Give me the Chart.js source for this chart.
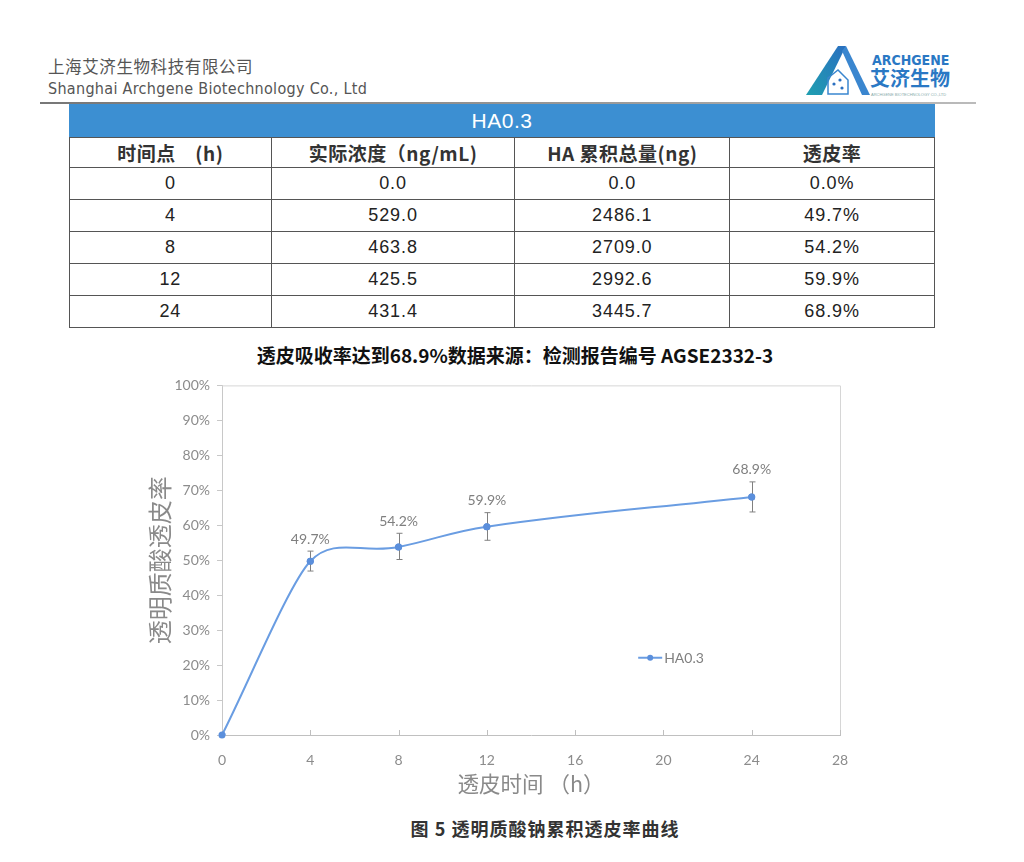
<!DOCTYPE html>
<html>
<head>
<meta charset="utf-8">
<script src="https://cdn.jsdelivr.net/npm/chart.js@4.4.1/dist/chart.umd.min.js"></script>
<style>
  html,body{margin:0;padding:0;background:#fff;}
  body{width:1024px;height:862px;position:relative;overflow:hidden;font-family:"Noto Sans CJK SC","Liberation Sans",sans-serif;}
  .abs{position:absolute;}
  #cn{left:48px;top:54px;font-size:16.5px;color:#555;letter-spacing:0.6px;font-family:"Noto Sans CJK SC",sans-serif;}
  #en{left:48px;top:79px;font-size:16px;color:#555;font-family:"Liberation Sans Narrow","DejaVu Sans Condensed",sans-serif;letter-spacing:0.3px;}
  #hline{left:40px;top:102px;width:936px;height:2px;background:linear-gradient(90deg,#777,#999 60%,#bbb);}
  table{position:absolute;left:69px;top:104px;width:866px;border-collapse:collapse;font-family:"Liberation Sans",Arial,sans-serif;}
  td,th{border:1px solid #555;text-align:center;color:#222;padding:0;}
  th.bar{background:#3c8fd2;color:#fff;font-weight:normal;font-size:21px;letter-spacing:0.5px;height:32px;border-color:#3c8fd2;border-bottom:1px solid #555;}
  th.hd{font-family:"Noto Sans CJK SC",sans-serif;font-weight:bold;font-size:19px;height:29px;color:#333;letter-spacing:0.5px;}
  td{height:31px;font-size:18px;letter-spacing:0.9px;}
  #sub{left:0;width:1030px;top:341px;text-align:center;font-size:19px;font-weight:bold;color:#111;font-family:"Noto Sans CJK SC",sans-serif;}
  #cap{left:0;width:1090px;top:815px;text-align:center;font-size:18px;font-weight:bold;color:#333;letter-spacing:1px;font-family:"Noto Sans CJK SC",sans-serif;}
  #wrap{left:140px;top:370px;width:720px;height:440px;}
</style>
</head>
<body>
<div id="cn" class="abs">上海艾济生物科技有限公司</div>
<div id="en" class="abs">Shanghai Archgene Biotechnology Co., Ltd</div>
<svg class="abs" style="left:800px;top:38px" width="170" height="64" viewBox="0 0 170 64">
  <defs>
    <linearGradient id="g1" x1="0" y1="1" x2="1" y2="0">
      <stop offset="0" stop-color="#1f9fb0"/>
      <stop offset="1" stop-color="#2a6fc0"/>
    </linearGradient>
  </defs>
  <polygon points="38,8 46,8 22,57 6,57" fill="url(#g1)"/>
  <polygon points="42,13 46,8 70,57 62,57" fill="#3a86cf"/>
  <polygon points="28,40 38,32 48,42 48,56 28,56" fill="none" stroke="#3a86cf" stroke-width="1.5"/>
  <circle cx="34" cy="46" r="1.6" fill="#2a6fc0"/><circle cx="40" cy="42" r="1.6" fill="#2a6fc0"/><circle cx="42" cy="50" r="1.6" fill="#2a6fc0"/>
  <text x="72" y="27" font-family="Liberation Sans Narrow,DejaVu Sans Condensed,sans-serif" font-size="14" font-weight="bold" fill="#2a78c4">ARCHGENE</text>
  <text x="70" y="48" font-family="Noto Sans CJK SC,sans-serif" font-weight="bold" font-size="20" fill="#2a78c4">艾济生物</text>
  <text x="71" y="58" font-family="Liberation Sans,sans-serif" font-size="4" fill="#8aa">ARCHGENE BIOTECHNOLOGY CO.,LTD</text>
</svg>
<div id="hline" class="abs"></div>
<table id="tbl"></table>
<div id="sub" class="abs">透皮吸收率达到68.9%数据来源：检测报告编号 AGSE2332-3</div>
<div id="wrap" class="abs"><canvas id="c" width="720" height="440"></canvas></div>
<div id="cap" class="abs">图 5 透明质酸钠累积透皮率曲线</div>
<script>
// ---- data ----
const tableTitle = 'HA0.3';
const tableHeaders = ['时间点　(h)', '实际浓度（ng/mL)', 'HA 累积总量(ng)', '透皮率'];
const timePoints = [0, 4, 8, 12, 24];
const concentration = ['0.0', '529.0', '463.8', '425.5', '431.4'];
const cumulativeTotal = ['0.0', '2486.1', '2709.0', '2992.6', '3445.7'];
const permeationPct = [0.0, 49.7, 54.2, 59.9, 68.9];
// plotted
const plotValues = [0, 49.7, 53.8, 59.6, 68.1];
const errHigh = [0, 52.6, 57.7, 63.6, 72.4];
const errLow = [0, 46.9, 50.2, 55.7, 63.8];
const seriesName = 'HA0.3';
const xTicks = [0, 4, 8, 12, 16, 20, 24, 28];
const yAxisTitle = '透明质酸透皮率';
const xAxisTitle = '透皮时间 （h）';

// ---- table ----
(function(){
  const t = document.getElementById('tbl');
  let h = '<tr><th class="bar" colspan="4">' + tableTitle + '</th></tr><tr>';
  const widths = [202, 244, 215, 205];
  tableHeaders.forEach((s,i)=>{ h += '<th class="hd" style="width:'+widths[i]+'px">' + s + '</th>'; });
  h += '</tr>';
  timePoints.forEach((tp,i)=>{
    h += '<tr><td>'+tp+'</td><td>'+concentration[i]+'</td><td>'+cumulativeTotal[i]+'</td><td>'+permeationPct[i].toFixed(1)+'%</td></tr>';
  });
  t.innerHTML = h;
})();

// ---- chart ----
const lineColor = '#6a9de2';
const tickFont = {family: 'Lato, "Liberation Sans", sans-serif', size: 14};
const extras = {
  id: 'extras',
  beforeDatasetsDraw(chart) {
    // Excel-like smoothing for the first segment: nearly straight rise, rounding into the 2nd point
    const meta = chart.getDatasetMeta(0);
    meta.dataset.updateControlPoints(chart.chartArea);
    const p = meta.data;
    if (p.length > 2) {
      p[0].cp2x = p[0].x + 0.3 * (p[1].x - p[0].x);
      p[0].cp2y = p[0].y + 0.3 * (p[1].y - p[0].y);
      p[1].cp1x = p[1].x - 0.12 * (p[2].x - p[0].x);
      p[1].cp1y = p[1].y - 0.12 * (p[2].y - p[0].y);
    }
  },
  afterDatasetsDraw(chart) {
    const ctx = chart.ctx, xs = chart.scales.x, ys = chart.scales.y, a = chart.chartArea;
    ctx.save();
    ctx.strokeStyle = '#d6d6d6'; ctx.lineWidth = 1;
    ctx.beginPath();
    ctx.moveTo(a.left, a.top + 0.5); ctx.lineTo(a.right + 0.5, a.top + 0.5); ctx.lineTo(a.right + 0.5, a.bottom);
    ctx.stroke();
    ctx.strokeStyle = '#bfbfbf';
    xTicks.forEach(v => { if (v === 0) return; const px = Math.round(xs.getPixelForValue(v)) + 0.5; ctx.beginPath(); ctx.moveTo(px, a.bottom); ctx.lineTo(px, a.bottom - 5); ctx.stroke(); });
    ctx.strokeStyle = '#808080'; ctx.lineWidth = 1;
    timePoints.forEach((tp, i) => {
      if (errHigh[i] === errLow[i]) return;
      const px = Math.round(xs.getPixelForValue(tp)) + 0.5;
      const y1 = ys.getPixelForValue(errHigh[i]), y2 = ys.getPixelForValue(errLow[i]);
      ctx.beginPath();
      ctx.moveTo(px, y1); ctx.lineTo(px, y2);
      ctx.moveTo(px - 3, y1); ctx.lineTo(px + 3, y1);
      ctx.moveTo(px - 3, y2); ctx.lineTo(px + 3, y2);
      ctx.stroke();
    });
    const meta = chart.getDatasetMeta(0);
    ctx.fillStyle = '#5b8fdc';
    meta.data.forEach(p => { ctx.beginPath(); ctx.arc(p.x, p.y, 3.5, 0, Math.PI * 2); ctx.fill(); });
    ctx.fillStyle = '#7f7f7f'; ctx.font = '14px ' + tickFont.family; ctx.textAlign = 'center'; ctx.textBaseline = 'middle';
    timePoints.forEach((tp, i) => {
      if (i === 0) return;
      ctx.fillText(permeationPct[i].toFixed(1) + '%', xs.getPixelForValue(tp), ys.getPixelForValue(errHigh[i]) - 12);
    });
    const lx = xs.getPixelForValue(19.4), ly = ys.getPixelForValue(22.1);
    ctx.strokeStyle = lineColor; ctx.lineWidth = 2;
    ctx.beginPath(); ctx.moveTo(lx - 12, ly); ctx.lineTo(lx + 12, ly); ctx.stroke();
    ctx.fillStyle = '#5b8fdc'; ctx.beginPath(); ctx.arc(lx, ly, 3, 0, Math.PI * 2); ctx.fill();
    ctx.fillStyle = '#808080'; ctx.textAlign = 'left';
    ctx.fillText(seriesName, lx + 14, ly + 1);
    ctx.restore();
  }
};

new Chart(document.getElementById('c'), {
  type: 'line',
  data: {
    datasets: [{
      label: seriesName,
      data: timePoints.map((t, i) => ({x: t, y: plotValues[i]})),
      borderColor: lineColor,
      backgroundColor: '#5b8fdc',
      borderWidth: 2,
      pointRadius: 3.5,
      pointBackgroundColor: '#5b8fdc',
      pointBorderWidth: 0,
      tension: 0.42,
      fill: false
    }]
  },
  options: {
    responsive: false,
    animation: false,
    layout: {padding: {top: 15, right: 20, left: 0, bottom: 0}},
    plugins: {legend: {display: false}, tooltip: {enabled: false}},
    scales: {
      x: {
        type: 'linear', min: 0, max: 28,
        afterBuildTicks: s => { s.ticks = xTicks.map(v => ({value: v})); },
        afterFit: s => { s.height = 75; },
        grid: {display: false},
        border: {display: true, color: '#c0c0c0', width: 1},
        ticks: {color: '#8c8c8c', font: tickFont, padding: 9, maxRotation: 0},
        title: {display: true, text: xAxisTitle, color: '#8a8a8a', font: {family: '"Noto Sans CJK SC", sans-serif', size: 21.5}, padding: {top: 4, bottom: 13}}
      },
      y: {
        min: 0, max: 100,
        afterFit: s => { s.width = 82; },
        grid: {drawOnChartArea: false, drawTicks: true, tickLength: 5, tickColor: '#c8c8c8', color: '#c8c8c8'},
        border: {display: true, color: '#c8c8c8', width: 1},
        ticks: {stepSize: 10, color: '#8c8c8c', font: tickFont, padding: 7, callback: v => v + '%'},
        title: {display: true, text: yAxisTitle, color: '#8a8a8a', font: {family: '"Noto Sans CJK SC", sans-serif', size: 24}, padding: {top: 5, bottom: 4}}
      }
    }
  },
  plugins: [extras]
});
</script>
</body>
</html>
